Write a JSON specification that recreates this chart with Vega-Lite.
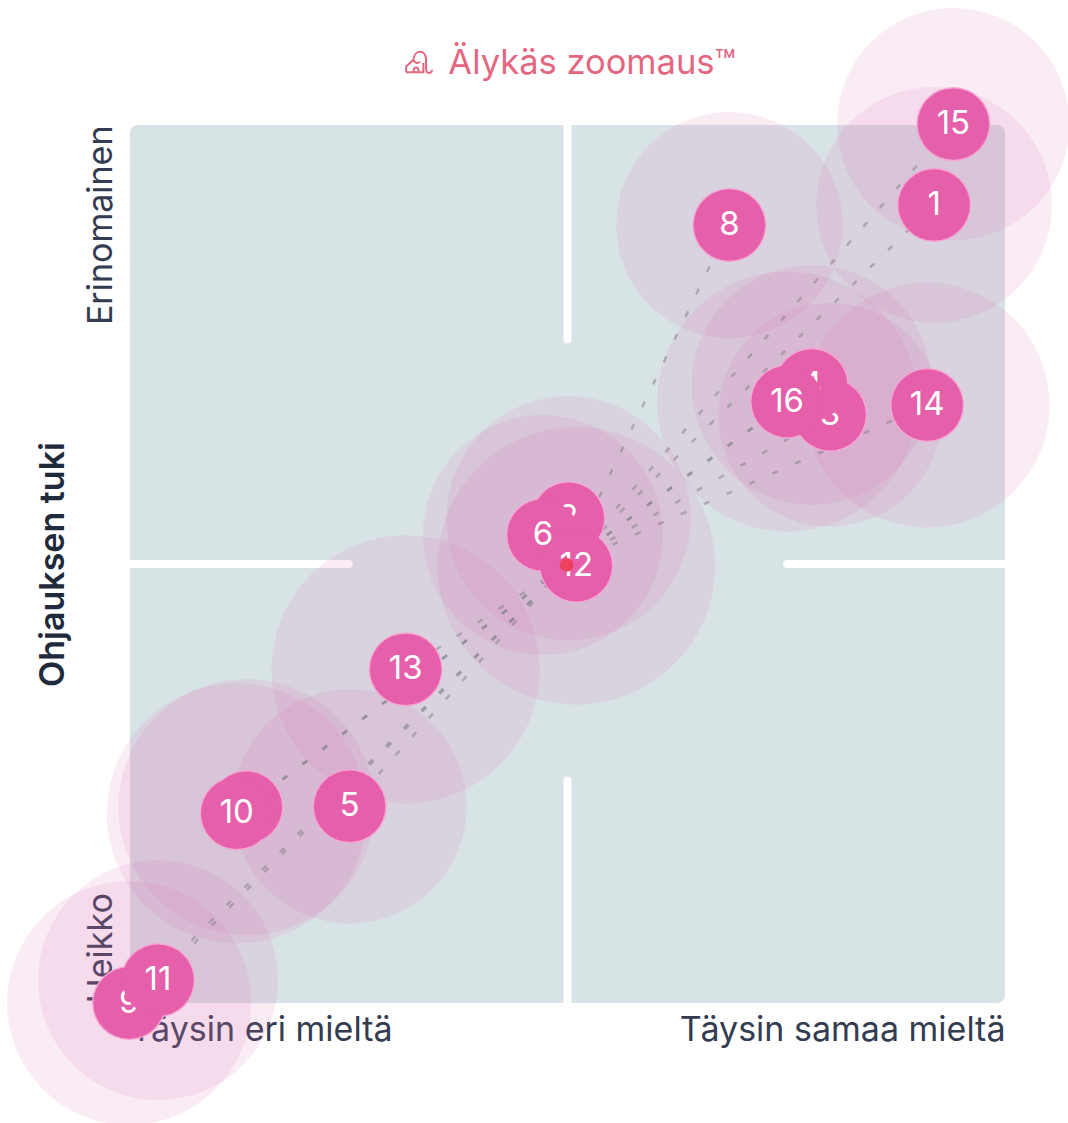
{"$schema":"https://vega.github.io/schema/vega-lite/v6.json","width":875,"height":878,"autosize":"none","padding":{"left":130,"top":125,"right":63,"bottom":120},"background":"white","config":{"view":{"stroke":null},"font":"Inter"},"datasets":{"pts":[{"id":1,"x":91.9,"y":90.9,"w":139},{"id":2,"x":50.1,"y":55.2,"w":149},{"id":3,"x":80.0,"y":67.0,"w":125},{"id":4,"x":77.9,"y":70.4,"w":144},{"id":5,"x":25.1,"y":22.4,"w":137},{"id":6,"x":47.2,"y":53.3,"w":144},{"id":7,"x":13.3,"y":22.3,"w":164},{"id":8,"x":68.5,"y":88.6,"w":128},{"id":9,"x":-0.1,"y":0,"w":149},{"id":10,"x":12.2,"y":21.6,"w":169},{"id":11,"x":3.2,"y":2.6,"w":144},{"id":12,"x":51.0,"y":49.8,"w":193},{"id":13,"x":31.5,"y":38.0,"w":180},{"id":14,"x":91.1,"y":68.1,"w":150},{"id":15,"x":94.1,"y":100.1,"w":135},{"id":16,"x":75.1,"y":68.5,"w":169}]},"data":{"name":"pts"},"encoding":{"x":{"field":"x","type":"quantitative","scale":{"domain":[0,100],"nice":false,"zero":false},"axis":{"values":[0,100],"title":null,"domain":false,"ticks":false,"grid":false,"labelFontSize":34,"labelColor":"#333c50","labelPadding":10,"labelLimit":500,"labelExpr":"datum.value==0?'Täysin eri mieltä':'Täysin samaa mieltä'","labelOverlap":false,"labelBound":false,"labelAlign":{"expr":"datum.value==0?'left':'right'"}}},"y":{"field":"y","type":"quantitative","scale":{"domain":[0,100],"nice":false,"zero":false},"axis":{"values":[0,100],"title":"Ohjauksen tuki","titleFontSize":34,"titleFontWeight":600,"titleColor":"#1f2a3c","titlePadding":14,"domain":false,"ticks":false,"grid":false,"labelFontSize":34,"labelColor":"#333c50","labelPadding":12,"labelAngle":-90,"labelLimit":500,"labelExpr":"datum.value==0?'Heikko':'Erinomainen'","labelOverlap":false,"labelBound":false,"labelAlign":{"expr":"datum.value==0?'left':'right'"},"labelBaseline":"bottom"}}},"layer":[{"data":{"values":[{"a":0,"b":100,"c":0,"d":100}]},"mark":{"type":"rect","color":"#d8e3e5","cornerRadius":8},"encoding":{"x":{"field":"a","type":"quantitative"},"x2":{"field":"b"},"y":{"field":"c","type":"quantitative"},"y2":{"field":"d"}}},{"data":{"values":[{"a":50,"b":50,"c":100,"d":75.6},{"a":50,"b":50,"c":0,"d":25.3},{"a":0,"b":25,"c":50,"d":50},{"a":75.1,"b":100,"c":50,"d":50}]},"mark":{"type":"rule","color":"white","strokeWidth":8,"strokeCap":"round"},"encoding":{"x":{"field":"a","type":"quantitative"},"x2":{"field":"b"},"y":{"field":"c","type":"quantitative"},"y2":{"field":"d"}}},{"mark":{"type":"circle","color":"#dc6cae","opacity":0.13},"encoding":{"size":{"field":"w","type":"quantitative","legend":null,"scale":{"type":"linear","domain":[0,200],"range":[0,80000]}}}},{"mark":{"type":"rule","color":"#7d7d88","opacity":0.5,"strokeWidth":2.5,"strokeDash":[6,19]},"encoding":{"x":{"datum":49.9,"type":"quantitative"},"y":{"datum":49.9,"type":"quantitative"},"x2":{"field":"x"},"y2":{"field":"y"}}},{"mark":{"type":"circle","color":"#f5a6d3","opacity":1,"size":5500}},{"transform":[{"filter":"datum.id==1"}],"mark":{"type":"circle","color":"#e55fab","opacity":1,"size":5100}},{"transform":[{"filter":"datum.id==1"}],"mark":{"type":"text","color":"white","fontSize":33,"font":"Inter"},"encoding":{"text":{"field":"id"}}},{"transform":[{"filter":"datum.id==2"}],"mark":{"type":"circle","color":"#e55fab","opacity":1,"size":5100}},{"transform":[{"filter":"datum.id==2"}],"mark":{"type":"text","color":"white","fontSize":33,"font":"Inter"},"encoding":{"text":{"field":"id"}}},{"transform":[{"filter":"datum.id==3"}],"mark":{"type":"circle","color":"#e55fab","opacity":1,"size":5100}},{"transform":[{"filter":"datum.id==3"}],"mark":{"type":"text","color":"white","fontSize":33,"font":"Inter"},"encoding":{"text":{"field":"id"}}},{"transform":[{"filter":"datum.id==4"}],"mark":{"type":"circle","color":"#e55fab","opacity":1,"size":5100}},{"transform":[{"filter":"datum.id==4"}],"mark":{"type":"text","color":"white","fontSize":33,"font":"Inter"},"encoding":{"text":{"field":"id"}}},{"transform":[{"filter":"datum.id==5"}],"mark":{"type":"circle","color":"#e55fab","opacity":1,"size":5100}},{"transform":[{"filter":"datum.id==5"}],"mark":{"type":"text","color":"white","fontSize":33,"font":"Inter"},"encoding":{"text":{"field":"id"}}},{"transform":[{"filter":"datum.id==6"}],"mark":{"type":"circle","color":"#e55fab","opacity":1,"size":5100}},{"transform":[{"filter":"datum.id==6"}],"mark":{"type":"text","color":"white","fontSize":33,"font":"Inter"},"encoding":{"text":{"field":"id"}}},{"transform":[{"filter":"datum.id==7"}],"mark":{"type":"circle","color":"#e55fab","opacity":1,"size":5100}},{"transform":[{"filter":"datum.id==7"}],"mark":{"type":"text","color":"white","fontSize":33,"font":"Inter"},"encoding":{"text":{"field":"id"}}},{"transform":[{"filter":"datum.id==8"}],"mark":{"type":"circle","color":"#e55fab","opacity":1,"size":5100}},{"transform":[{"filter":"datum.id==8"}],"mark":{"type":"text","color":"white","fontSize":33,"font":"Inter"},"encoding":{"text":{"field":"id"}}},{"transform":[{"filter":"datum.id==9"}],"mark":{"type":"circle","color":"#e55fab","opacity":1,"size":5100}},{"transform":[{"filter":"datum.id==9"}],"mark":{"type":"text","color":"white","fontSize":33,"font":"Inter"},"encoding":{"text":{"field":"id"}}},{"transform":[{"filter":"datum.id==10"}],"mark":{"type":"circle","color":"#e55fab","opacity":1,"size":5100}},{"transform":[{"filter":"datum.id==10"}],"mark":{"type":"text","color":"white","fontSize":33,"font":"Inter"},"encoding":{"text":{"field":"id"}}},{"transform":[{"filter":"datum.id==11"}],"mark":{"type":"circle","color":"#e55fab","opacity":1,"size":5100}},{"transform":[{"filter":"datum.id==11"}],"mark":{"type":"text","color":"white","fontSize":33,"font":"Inter"},"encoding":{"text":{"field":"id"}}},{"transform":[{"filter":"datum.id==12"}],"mark":{"type":"circle","color":"#e55fab","opacity":1,"size":5100}},{"transform":[{"filter":"datum.id==12"}],"mark":{"type":"text","color":"white","fontSize":33,"font":"Inter"},"encoding":{"text":{"field":"id"}}},{"transform":[{"filter":"datum.id==13"}],"mark":{"type":"circle","color":"#e55fab","opacity":1,"size":5100}},{"transform":[{"filter":"datum.id==13"}],"mark":{"type":"text","color":"white","fontSize":33,"font":"Inter"},"encoding":{"text":{"field":"id"}}},{"transform":[{"filter":"datum.id==14"}],"mark":{"type":"circle","color":"#e55fab","opacity":1,"size":5100}},{"transform":[{"filter":"datum.id==14"}],"mark":{"type":"text","color":"white","fontSize":33,"font":"Inter"},"encoding":{"text":{"field":"id"}}},{"transform":[{"filter":"datum.id==15"}],"mark":{"type":"circle","color":"#e55fab","opacity":1,"size":5100}},{"transform":[{"filter":"datum.id==15"}],"mark":{"type":"text","color":"white","fontSize":33,"font":"Inter"},"encoding":{"text":{"field":"id"}}},{"transform":[{"filter":"datum.id==16"}],"mark":{"type":"circle","color":"#e55fab","opacity":1,"size":5100}},{"transform":[{"filter":"datum.id==16"}],"mark":{"type":"text","color":"white","fontSize":33,"font":"Inter"},"encoding":{"text":{"field":"id"}}},{"data":{"values":[{"x":49.9,"y":49.9}]},"mark":{"type":"circle","color":"#f0405f","opacity":1,"size":190}},{"data":{"values":[{"x":33.0,"y":107.2}]},"mark":{"type":"point","filled":false,"stroke":"#e5667f","strokeWidth":2,"opacity":1,"size":700,"shape":"M-0.95,0.8 L-0.95,0.35 L-0.4,-0.15 C-0.35,-0.95 0.55,-0.95 0.55,-0.2 L0.55,0.5 C0.55,0.95 1,0.95 1,0.6 M-0.95,0.8 L0.35,0.8 L0.35,0.1 M-0.4,0.8 C-0.4,0.3 0,0.3 0,0.8 M-0.4,-0.15 C-0.35,0.1 -0.1,0.15 0.1,0"}},{"data":{"values":[{"x":52.8,"y":106.9,"t":"Älykäs zoomaus™"}]},"mark":{"type":"text","color":"#e5667f","fontSize":34.5,"font":"Inter","fontWeight":400},"encoding":{"text":{"field":"t"}}}]}
